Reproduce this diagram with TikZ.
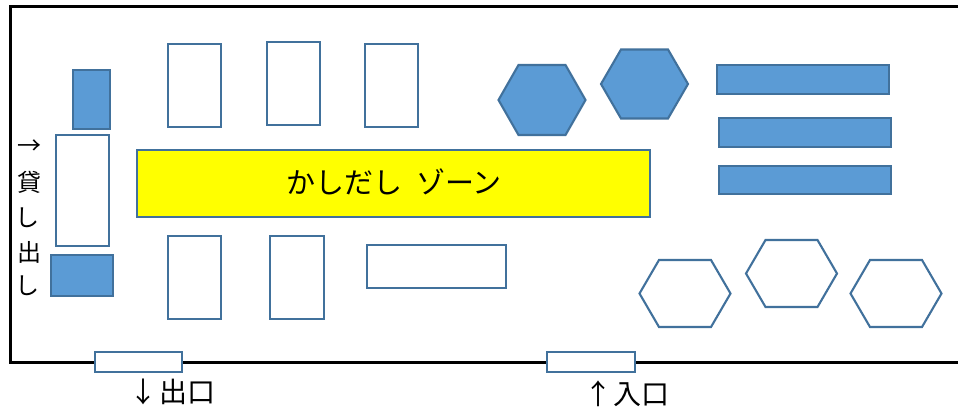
\documentclass[tikz,border=0pt]{standalone}
\usepackage{fontspec}
\setmainfont{Noto Sans CJK JP}
\definecolor{edgeblue}{HTML}{41719C}
\definecolor{fillblue}{HTML}{5B9BD5}
\definecolor{zoneyellow}{RGB}{255,255,0}
\tikzset{
  shapeline/.style={draw=edgeblue,line width=2.6pt,line join=miter},
  solidblue/.style={shapeline,fill=fillblue},
  hollow/.style={shapeline,fill=white},
  zone/.style={shapeline,fill=zoneyellow},
  hexthin/.style={line width=2.1pt},
  label/.style={inner sep=0pt,text=black,font=\fontsize{24}{24}\selectfont},
  bigger/.style={label,font=\fontsize{28}{28}\selectfont},
}
% name, x1, y1, x2, y2, style
\newcommand{\rectnode}[6]{\path[#6] (#2,#3) rectangle (#4,#5);\coordinate (#1) at ({(#2+#4)/2},{(#3+#5)/2});}
% centre x, centre y, half width, half top width, half height, style
\newcommand{\hexa}[6]{\path[#6,hexthin] (#1-#3,#2) -- (#1-#4,#2-#5) -- (#1+#4,#2-#5) -- (#1+#3,#2) -- (#1+#4,#2+#5) -- (#1-#4,#2+#5) -- cycle;}
\begin{document}
\begin{tikzpicture}[x=1pt,y=-1pt]
\useasboundingbox (0,0) rectangle (958,407);
\fill[white] (0,0) rectangle (958,407);
\draw[black,line width=3pt,line cap=butt,line join=miter] (958,6) -- (10,6) -- (10,362) -- (958,362);

\rectnode{a}{73}{70}{110}{129}{solidblue}
\rectnode{b}{56}{135}{109}{246}{hollow}
\rectnode{c}{51}{255}{113}{296}{solidblue}
\rectnode{d}{168}{44}{221}{127}{hollow}
\rectnode{e}{267}{42}{320}{125}{hollow}
\rectnode{f}{365}{44}{418}{127}{hollow}
\rectnode{g}{168}{236}{221}{319}{hollow}
\rectnode{h}{270}{236}{324}{319}{hollow}
\rectnode{i}{367}{245}{506}{288}{hollow}
\rectnode{j}{717}{65}{889}{94}{solidblue}
\rectnode{k}{719}{118}{891}{147}{solidblue}
\rectnode{l}{719}{166}{891}{194}{solidblue}
\rectnode{m}{95}{352}{182}{372}{hollow}
\rectnode{n}{547}{352}{635}{372}{hollow}
\rectnode{z}{137}{150}{650}{217}{zone}

\hexa{542}{100}{43.5}{23.5}{35}{solidblue}
\hexa{644.5}{84}{43.5}{23.5}{34.5}{solidblue}
\hexa{685}{293.5}{45.5}{26}{33.5}{hollow}
\hexa{791.5}{273.5}{45.5}{26}{33.5}{hollow}
\hexa{896}{293.5}{45.5}{26}{33.5}{hollow}

\node[label,font=\fontsize{29}{29}\selectfont] (zt) at (394,182) {かしだし\hspace{14pt}ゾーン};
\node[label] (t0) at (29,147) {→};
\node[label] (t1) at (29,182) {貸};
\node[label] (t2) at (27,218) {し};
\node[label] (t3) at (29,252) {出};
\node[label] (t4) at (27,286) {し};
\node[bigger] (ta) at (172.5,391.5) {↓\hspace{2pt}出口};
\node[bigger] (tb) at (627,393.5) {↑\hspace{2pt}入口};
\end{tikzpicture}
\end{document}
